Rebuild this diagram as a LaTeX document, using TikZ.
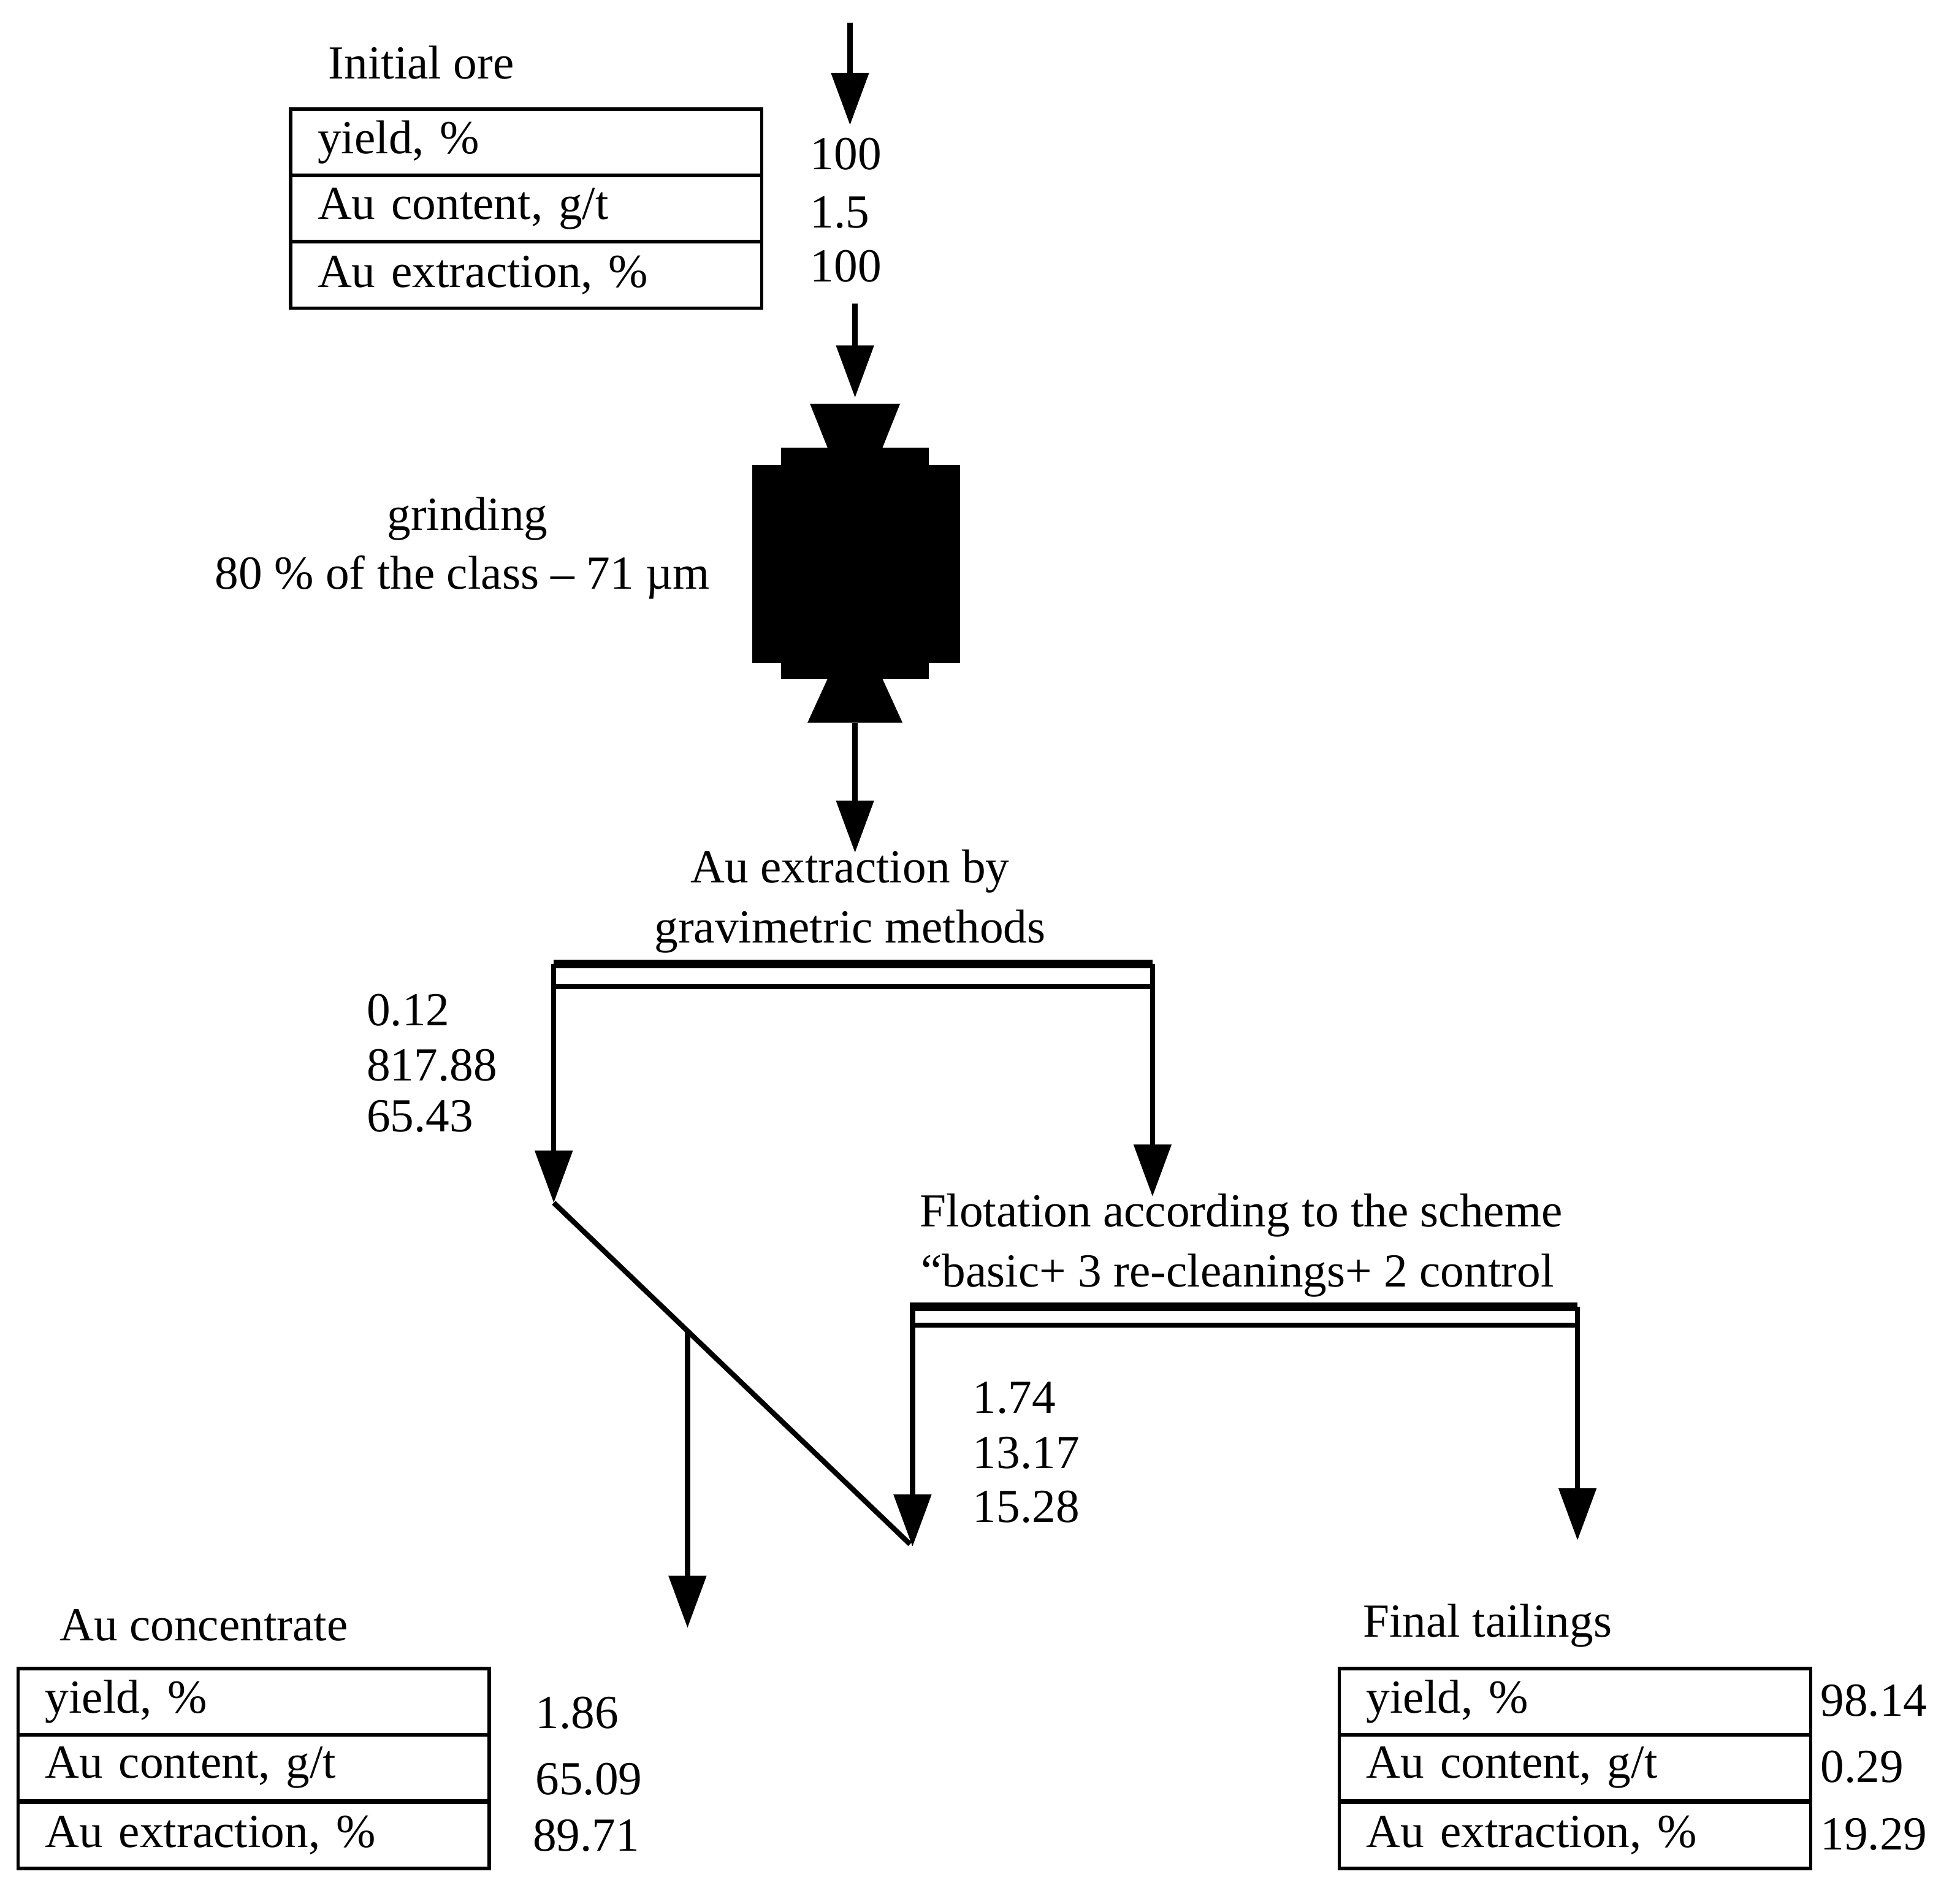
\documentclass[tikz,border=0pt]{standalone}
\usepackage{fontspec}
\setmainfont{Liberation Serif}
\usetikzlibrary{arrows.meta}
\begin{document}
\begin{tikzpicture}[x=0.02039cm,y=-0.02039cm,
  txt/.style={font=\fontsize{22}{26}\selectfont,inner sep=0pt},
  val/.style={txt,anchor=west},
  cell/.style={draw,line width=1.6pt,minimum width=377\pgflinewidth*0+7.687cm,minimum height=1.08cm,anchor=north west,inner xsep=0.4cm,text width=6.8cm,font=\fontsize{22}{26}\selectfont},
  ln/.style={line width=2.4pt},
  arr/.style={ln,-{Triangle[width=0.6cm,length=0.85cm]}}]
\useasboundingbox (0,0) rectangle (1568,1514);
% top
\coordinate (t0) at (680,18); \coordinate (t1) at (680,100);
\draw[arr] (t0) -- (t1);
\node[txt] (io) at (337,50) {Initial ore};
\node[cell] (a1) at (231,86) {yield, \%};
\node[cell] (a2) at (231,139) {Au content, g/t};
\node[cell] (a3) at (231,192) {Au extraction, \%};
\node[val] (v1) at (648,123) {100};
\node[val] (v2) at (648,170) {1.5};
\node[val] (v3) at (648,213) {100};
\coordinate (m0) at (684,243); \coordinate (m1) at (684,318);
\draw[arr] (m0) -- (m1);
% mill
\fill (648,323) -- (720,323) -- (706,358) -- (662,358) -- cycle;
\fill (625,358) rectangle (743,543);
\fill (602,372) rectangle (768,530);
\fill (662,543) -- (706,543) -- (722,578) -- (646,578) -- cycle;
\node[txt] (g1) at (374,415) {grinding};
\node[txt] (g2) at (370,462) {80 \% of the class -- 71 µm};
\coordinate (m2) at (684,578); \coordinate (m3) at (684,682);
\draw[arr] (m2) -- (m3);
\node[txt] (gr1) at (680,697) {Au extraction by};
\node[txt] (gr2) at (680,745) {gravimetric methods};
% gravity split
\coordinate (gl) at (443,771); \coordinate (gr) at (922,771);
\draw[line width=4pt] (443,771) -- (922,771);
\draw[ln] (443,789) -- (922,789);
\coordinate (gle) at (443,962); \coordinate (gre) at (922,957);
\draw[arr] (gl) -- (gle);
\draw[arr] (gr) -- (gre);
\node[val] (w1) at (293,808) {0.12};
\node[val] (w2) at (293,852) {817.88};
\node[val] (w3) at (293,893) {65.43};
\node[txt] (f1) at (993,972) {Flotation according to the scheme};
\node[txt] (f2) at (990,1020) {“basic+ 3 re-cleanings+ 2 control};
\draw[line width=4pt] (728,1045) -- (1262,1045);
\draw[ln] (728,1060) -- (1262,1060);
\coordinate (fl) at (730,1045); \coordinate (fle) at (730,1237);
\coordinate (fr) at (1262,1045); \coordinate (fre) at (1262,1232);
\draw[arr] (fl) -- (fle);
\draw[arr] (fr) -- (fre);
\coordinate (d0) at (443,962); \coordinate (d1) at (728,1235);
\draw[ln] (d0) -- (d1);
\coordinate (c0) at (550,1064); \coordinate (c1) at (550,1302);
\draw[arr] (c0) -- (c1);
\node[val] (x1) at (778,1118) {1.74};
\node[val] (x2) at (778,1162) {13.17};
\node[val] (x3) at (778,1205) {15.28};
% concentrate
\node[txt] (ac) at (163,1300) {Au concentrate};
\node[cell] (b1) at (13,1333) {yield, \%};
\node[cell] (b2) at (13,1386) {Au content, g/t};
\node[cell] (b3) at (13,1440) {Au extraction, \%};
\node[val] (y1) at (428,1370) {1.86};
\node[val] (y2) at (428,1423) {65.09};
\node[val] (y3) at (426,1468) {89.71};
% tailings
\node[txt] (ft) at (1190,1300) {Final tailings};
\node[cell] (c1b) at (1070,1333) {yield, \%};
\node[cell] (c2b) at (1070,1386) {Au content, g/t};
\node[cell] (c3b) at (1070,1440) {Au extraction, \%};
\node[val] (z1) at (1456,1360) {98.14};
\node[val] (z2) at (1456,1413) {0.29};
\node[val] (z3) at (1456,1467) {19.29};
\end{tikzpicture}
\end{document}
